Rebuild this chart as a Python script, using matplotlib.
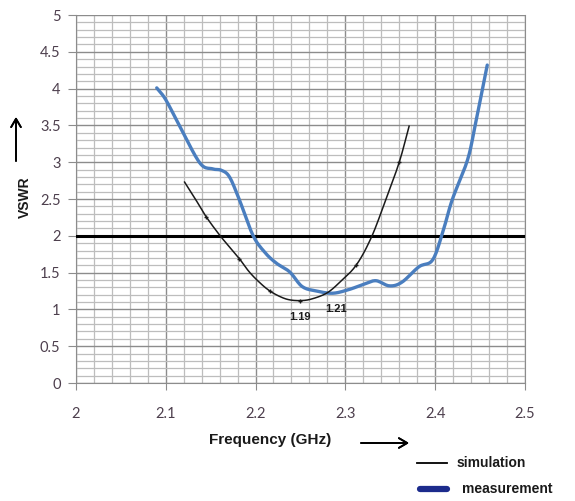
import numpy as np
import matplotlib.pyplot as plt
from matplotlib.ticker import MultipleLocator, FuncFormatter
from matplotlib.lines import Line2D

# values
meas_f = [2.090, 2.100, 2.116, 2.138, 2.152, 2.162, 2.171, 2.182, 2.197, 2.210,
          2.223, 2.238, 2.252, 2.268, 2.286, 2.304, 2.320, 2.334, 2.349, 2.363,
          2.382, 2.397, 2.408, 2.419, 2.436, 2.445, 2.458]
meas_vswr = [4.01, 3.85, 3.48, 2.99, 2.91, 2.89, 2.80, 2.49, 2.01, 1.78,
             1.63, 1.51, 1.31, 1.25, 1.22, 1.27, 1.34, 1.39, 1.32, 1.37,
             1.58, 1.67, 2.03, 2.49, 3.03, 3.53, 4.32]

sim_f = [2.121, 2.133, 2.145, 2.160, 2.171, 2.182, 2.193, 2.205, 2.216, 2.228,
         2.238, 2.250, 2.262, 2.279, 2.293, 2.312, 2.329, 2.345, 2.360, 2.371]
sim_vswr = [2.73, 2.50, 2.26, 2.01, 1.85, 1.69, 1.51, 1.36, 1.25, 1.17,
            1.13, 1.12, 1.14, 1.22, 1.36, 1.60, 1.98, 2.49, 3.00, 3.49]

marker_idx = [2, 5, 8, 11, 15, 18]
limit_vswr = 2.0


def smooth(x, y, n=12):
    # catmull-rom through the read points, like excel's smoothed line
    x = np.asarray(x, float)
    y = np.asarray(y, float)
    px = np.concatenate([[2 * x[0] - x[1]], x, [2 * x[-1] - x[-2]]])
    py = np.concatenate([[2 * y[0] - y[1]], y, [2 * y[-1] - y[-2]]])
    t = np.linspace(0, 1, n, endpoint=False)
    ox, oy = [], []
    for i in range(1, len(px) - 2):
        for arr, out in ((px, ox), (py, oy)):
            p0, p1, p2, p3 = arr[i - 1], arr[i], arr[i + 1], arr[i + 2]
            out.extend(0.5 * (2 * p1 + (-p0 + p2) * t
                              + (2 * p0 - 5 * p1 + 4 * p2 - p3) * t ** 2
                              + (-p0 + 3 * p1 - 3 * p2 + p3) * t ** 3))
    ox.append(x[-1])
    oy.append(y[-1])
    return np.array(ox), np.array(oy)


fig = plt.figure(figsize=(5.75, 5.01), dpi=100)
ax = fig.add_axes([0.132, 0.2355, 0.781, 0.7345])

ax.set_xlim(2, 2.5)
ax.set_ylim(0, 5)
ax.xaxis.set_major_locator(MultipleLocator(0.1))
ax.xaxis.set_minor_locator(MultipleLocator(0.02))
ax.yaxis.set_major_locator(MultipleLocator(0.5))
ax.yaxis.set_minor_locator(MultipleLocator(0.1))
ax.grid(which='major', color='#8c8c8c', linewidth=1.0)
ax.grid(which='minor', color='#bdbdbd', linewidth=0.9)
ax.set_axisbelow(True)

fmt = FuncFormatter(lambda v, p: ('%g' % round(v, 2)))
ax.xaxis.set_major_formatter(fmt)
ax.yaxis.set_major_formatter(fmt)
tick_col = '#4d3f4d'
ax.tick_params(axis='x', which='major', length=5, pad=12, colors='#8c8c8c',
               labelcolor=tick_col, labelsize=10.5)
ax.tick_params(axis='y', which='major', length=6, pad=5, colors='#8c8c8c',
               labelcolor=tick_col, labelsize=10.5)
ax.tick_params(which='minor', length=0)
for lab in ax.get_xticklabels() + ax.get_yticklabels():
    lab.set_family('Lato')
for s in ax.spines.values():
    s.set_color('#8c8c8c')
ax.spines['top'].set_visible(False)

ax.axhline(limit_vswr, color='black', linewidth=2.2, zorder=3)

mx, my = smooth(meas_f, meas_vswr)
ax.plot(mx, my, color='#4a7ebf', linewidth=2.4, solid_capstyle='round', zorder=4)

sx, sy = smooth(sim_f, sim_vswr)
ax.plot(sx, sy, color='#1a1a1a', linewidth=1.1, zorder=5)
ax.plot([sim_f[i] for i in marker_idx], [sim_vswr[i] for i in marker_idx],
        linestyle='none', marker='+', markersize=3, color='#1a1a1a', zorder=5)

ax.text(2.250, 0.90, '1.19', fontsize=8, fontweight='bold', ha='center',
        va='center', family='Liberation Sans', color='#1a1a1a')
ax.text(2.290, 1.00, '1.21', fontsize=8, fontweight='bold', ha='center',
        va='center', family='Liberation Sans', color='#1a1a1a')

# axis titles with arrows
fig.text(270 / 575, 1 - 440 / 501, 'Frequency (GHz)', fontsize=11,
         fontweight='bold', family='Liberation Sans', ha='center', va='center',
         color='#1a1a1a')
fig.text(25 / 575, 1 - 197 / 501, 'VSWR', fontsize=10, fontweight='bold',
         family='Liberation Sans', rotation=90, ha='center', va='center',
         color='#1a1a1a')
arrow = dict(arrowstyle='->,head_length=0.6,head_width=0.35', color='black',
             linewidth=1.3, shrinkA=0, shrinkB=0)
fig.add_artist(plt.annotate('', xy=(409 / 575, 1 - 443 / 501),
                            xytext=(361 / 575, 1 - 443 / 501),
                            xycoords='figure fraction', arrowprops=arrow))
fig.add_artist(plt.annotate('', xy=(16 / 575, 1 - 117 / 501),
                            xytext=(16 / 575, 1 - 161 / 501),
                            xycoords='figure fraction', arrowprops=arrow))

# legend below the plot
fig.add_artist(Line2D([417 / 575, 447 / 575], [1 - 463 / 501] * 2,
                      color='black', linewidth=1.3))
fig.add_artist(Line2D([420 / 575, 447 / 575], [1 - 489 / 501] * 2,
                      color='#1c2b8c', linewidth=4.5, solid_capstyle='round'))
fig.text(457 / 575, 1 - 463 / 501, 'simulation', fontsize=10,
         fontweight='bold', family='Liberation Sans', va='center',
         color='#1a1a1a')
fig.text(462 / 575, 1 - 489 / 501, 'measurement', fontsize=10,
         fontweight='bold', family='Liberation Sans', va='center',
         color='#1a1a1a')

fig.savefig('out.png', dpi=100)
